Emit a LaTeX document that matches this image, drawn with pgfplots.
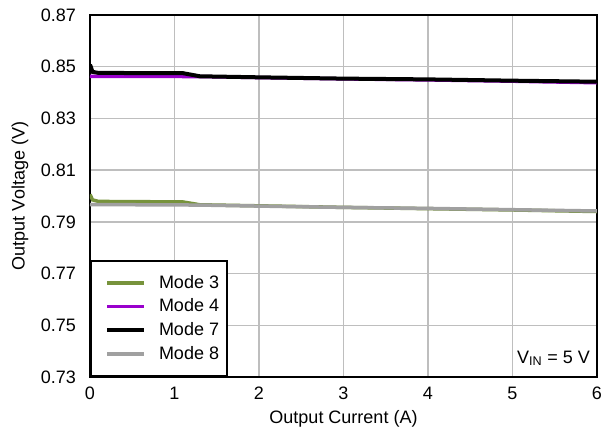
\documentclass[border=0pt]{standalone}
\usepackage{fontspec}
\setmainfont{Liberation Sans}
\usepackage{pgfplots}
\pgfplotsset{compat=1.18}
\definecolor{modegreen}{RGB}{119,147,60}
\definecolor{modepurple}{RGB}{153,0,204}
\definecolor{modegray}{RGB}{160,160,160}
\definecolor{gridgray}{RGB}{190,190,190}

\begin{document}
\fontsize{18}{21.6}\selectfont
\begin{tikzpicture}
\begin{axis}[
  scale only axis,
  width=507pt, height=362pt,
  at={(0,0)}, anchor=south west,
  xmin=0, xmax=6, ymin=0.73, ymax=0.87,
  xtick={0,1,2,3,4,5,6},
  ytick={0.73,0.75,0.77,0.79,0.81,0.83,0.85,0.87},
  yticklabel style={/pgf/number format/fixed, /pgf/number format/fixed zerofill,
    /pgf/number format/precision=2, xshift=-8pt},
  /pgf/number format/assume math mode=true,
  tick label style={font=\fontsize{18}{21.6}\selectfont},
  label style={font=\fontsize{18}{21.6}\selectfont},
  major tick length=0pt,
  xticklabel style={yshift=-4pt},
  grid=major,
  grid style={gridgray, line width=1.3pt},
  axis line style={black, line width=2.5pt},
  xlabel={Output Current (A)},
  ylabel={Output Voltage (V)},
  xlabel style={at={(axis description cs:0.5,0)}, anchor=center, yshift=-42pt},
  ylabel style={at={(axis description cs:0,0.5)}, anchor=center, rotate=0, yshift=70pt},
  legend cell align=left,
  legend style={at={(0,0)}, anchor=south west, draw=black, line width=2pt, fill=white,
    font=\fontsize{18}{21.6}\selectfont, inner xsep=6pt, inner ysep=12pt, row sep=4pt,
    nodes={inner sep=2pt}, /tikz/every odd column/.append style={column sep=11pt}},
  legend image code/.code={\path (0pt,0pt); \draw[#1] (8pt,0pt) -- (45pt,0pt);},
]
\addplot[modegreen, line width=3.5pt] coordinates {
  (0,0.8006) (0.03,0.7985) (0.1,0.7979) (1.1,0.7977) (1.3,0.7966)
  (2,0.7962) (3,0.7956) (4,0.7951) (5,0.7946) (6,0.7940)};
\addlegendentry{Mode 3}
\addplot[modepurple, line width=3.5pt] coordinates {
  (0,0.8463) (1.3,0.8462) (2,0.8458) (3,0.8453) (4,0.8449) (5,0.8444) (6,0.8438)};
\addlegendentry{Mode 4}
\addplot[black, line width=4pt] coordinates {
  (0,0.8508) (0.03,0.8480) (0.1,0.8476) (1.1,0.8475) (1.3,0.8463)
  (2,0.8459) (3,0.8454) (4,0.8451) (5,0.8446) (6,0.8442)};
\addlegendentry{Mode 7}
\addplot[modegray, line width=3.5pt] coordinates {
  (0,0.7967) (1.3,0.7965) (2,0.7961) (3,0.7956) (4,0.7952) (5,0.7947) (6,0.7942)};
\addlegendentry{Mode 8}
\node[anchor=base east, inner sep=0pt] at (rel axis cs:1,0) [xshift=-7pt, yshift=14pt]
  {V\textsubscript{IN} = 5 V};
\end{axis}
\pgfresetboundingbox
\path[use as bounding box] (-90pt,-52pt) rectangle (512pt,377pt);
\end{tikzpicture}
\end{document}
